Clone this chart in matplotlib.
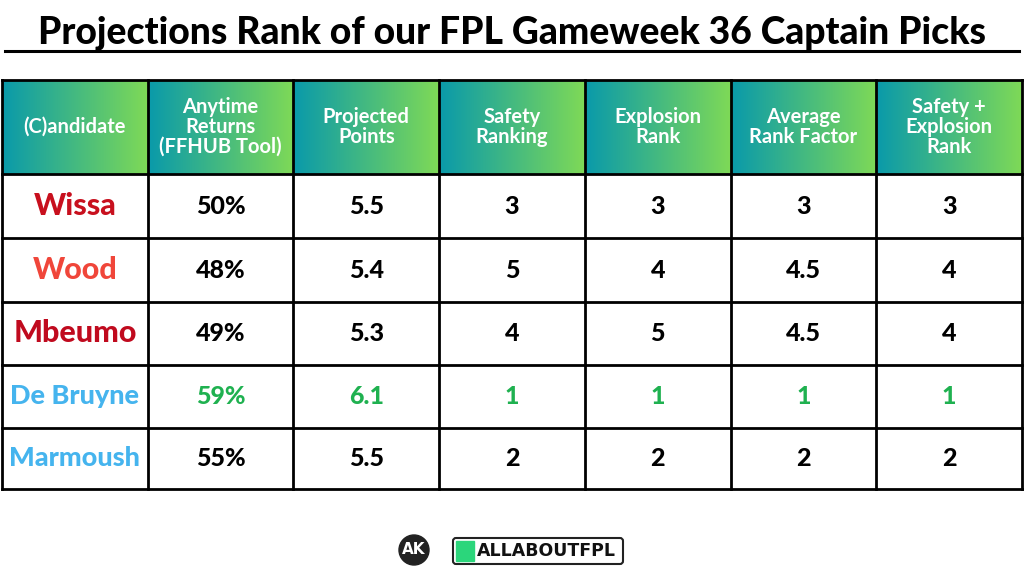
import matplotlib
matplotlib.use("Agg")
import matplotlib.pyplot as plt
import numpy as np
from matplotlib.patches import Rectangle, Circle, FancyBboxPatch
from matplotlib.colors import LinearSegmentedColormap

title = "Projections Rank of our FPL Gameweek 36 Captain Picks"
headers = ["(C)andidate", "Anytime\nReturns\n(FFHUB Tool)", "Projected\nPoints",
           "Safety\nRanking", "Explosion\nRank", "Average\nRank Factor", "Safety +\nExplosion\nRank"]
players = ["Wissa", "Wood", "Mbeumo", "De Bruyne", "Marmoush"]
anytime = ["50%", "48%", "49%", "59%", "55%"]
projected = ["5.5", "5.4", "5.3", "6.1", "5.5"]
safety = ["3", "5", "4", "1", "2"]
explosion = ["3", "4", "5", "1", "2"]
avg_rank = ["3", "4.5", "4.5", "1", "2"]
combined = ["3", "4", "4", "1", "2"]

name_colors = ["#c8101e", "#f0463a", "#c00a1e", "#45b4ee", "#45b4ee"]
highlight_row = 3

fig = plt.figure(figsize=(10.24, 5.76), dpi=100)
ax = fig.add_axes([0, 0, 1, 1])
ax.set_xlim(0, 1024); ax.set_ylim(576, 0); ax.axis("off")
font = "Lato"

ax.text(512, 33, title, ha="center", va="center", fontsize=26.8, fontweight="black",
        family=font, color="black")
ax.plot([5, 1019], [51, 51], color="black", lw=2.2)

xs = np.linspace(2, 1022, 8)
ys = [80, 174, 238, 302, 365, 428, 489]
grad = np.linspace(0, 1, 100)[None, :]
cmap = LinearSegmentedColormap.from_list("g", ["#0a9aaa", "#7ed957"])
for i in range(7):
    ax.imshow(grad, extent=(xs[i], xs[i+1], ys[1], ys[0]), cmap=cmap, aspect="auto", zorder=1)
    ax.text((xs[i]+xs[i+1])/2, (ys[0]+ys[1])/2, headers[i], ha="center", va="center",
            color="white", fontsize=14.5, fontweight="bold", family=font, linespacing=1.0, zorder=3)

cols = [anytime, projected, safety, explosion, avg_rank, combined]
for r in range(5):
    cy = (ys[r+1]+ys[r+2])/2
    ax.text((xs[0]+xs[1])/2, cy, players[r], ha="center", va="center", color=name_colors[r],
            fontsize=22 if r < 3 else 19.5, fontweight="black", family=font, zorder=3)
    for c in range(6):
        col = "#1fb150" if r == highlight_row else "black"
        ax.text((xs[c+1]+xs[c+2])/2, cy, cols[c][r], ha="center", va="center", color=col,
                fontsize=18, fontweight="black", family=font, zorder=3)

for x in xs:
    ax.plot([x, x], [ys[0], ys[-1]], color="black", lw=2, zorder=4)
for y in ys:
    ax.plot([xs[0], xs[-1]], [y, y], color="black", lw=2, zorder=4)

# footer logo
ax.add_patch(Circle((414, 550), 15, color="#222222", zorder=3))
ax.text(414, 550, "AK", ha="center", va="center", color="white", fontsize=11, fontweight="bold", zorder=4)
ax.add_patch(FancyBboxPatch((453, 538), 170, 26, boxstyle="round,pad=0,rounding_size=3",
                            fc="white", ec="#222222", lw=1.5, zorder=3))
ax.add_patch(Rectangle((456, 541), 18, 20, color="#2bd67b", zorder=4))
ax.text(477, 551, "ALLABOUTFPL", ha="left", va="center", fontsize=12.5, fontweight="black",
        family="DejaVu Sans", color="#111111", zorder=4)

fig.savefig("out.png", dpi=100)
